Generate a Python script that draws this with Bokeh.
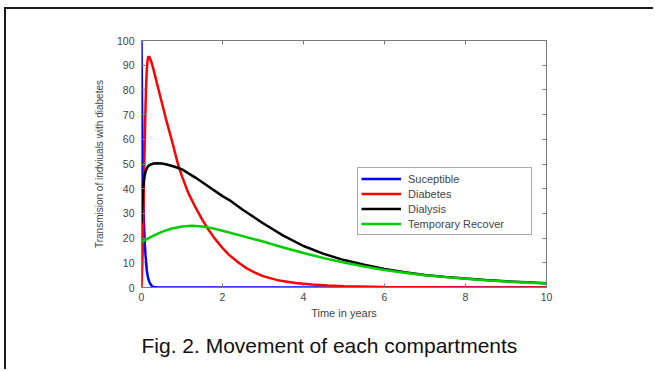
from bokeh.plotting import figure
from bokeh.models import Range1d, LinearAxis, Legend, LegendItem, Title, FixedTicker
from bokeh.embed import file_html
from bokeh.resources import INLINE

# ---------------- data ----------------
x_ticks = [0, 2, 4, 6, 8, 10]
y_ticks = [0, 10, 20, 30, 40, 50, 60, 70, 80, 90, 100]

t_sus = [0, 0.01, 0.02, 0.03, 0.04, 0.05, 0.06, 0.08, 0.10, 0.13, 0.16, 0.20, 0.25, 0.30, 0.40,
         1, 2, 4, 6, 8, 10]
sus = [100, 80, 64, 52, 42, 33, 27, 18, 13, 7, 4, 2, 0.7, 0.2, 0,
       0, 0, 0, 0, 0, 0]

t_dia = [0, 0.03, 0.05, 0.07, 0.09, 0.11, 0.13, 0.15, 0.17, 0.20, 0.25, 0.30, 0.40, 0.50, 0.60,
         0.75, 0.90, 1.00, 1.15, 1.33, 1.50, 1.62, 1.80, 2.00, 2.16, 2.40, 2.60, 2.80, 3.00,
         3.40, 3.80, 4.20, 4.60, 5.0, 6.0, 7.0, 8.0, 10.0]
dia = [0, 15, 32, 50, 67, 80, 88, 92, 93.5, 93.2, 91, 88, 81.5, 75, 68.5,
       59.5, 50, 45, 38.5, 32.5, 27.5, 24.2, 20, 16, 13.2, 10, 7.7, 6, 4.6,
       2.8, 1.8, 1.2, 0.8, 0.5, 0.2, 0.1, 0, 0]

t_dly = [0, 0.02, 0.04, 0.06, 0.08, 0.10, 0.15, 0.20, 0.30, 0.40, 0.50, 0.60, 0.80, 1.00, 1.33,
         1.60, 2.00, 2.16, 2.50, 3.00, 3.50, 4.00, 4.50, 5.00, 5.50, 6.00, 6.50, 7.00, 7.50,
         8.00, 8.50, 9.00, 9.50, 10.0]
dly = [26, 34, 40, 43.5, 45.5, 47, 48.8, 49.6, 50.2, 50.3, 50.2, 49.9, 49, 47.8, 44.5,
       41.5, 37, 35.5, 31.5, 26, 21, 16.8, 13.6, 11.1, 9.2, 7.5, 6.2, 5.1, 4.3,
       3.6, 3.0, 2.5, 2.1, 1.7]

t_rec = [0, 0.1, 0.25, 0.5, 0.75, 1.0, 1.25, 1.5, 1.75, 2.0, 2.5, 3.0, 3.5, 4.0, 4.5, 5.0,
         5.5, 6.0, 6.5, 7.0, 7.5, 8.0, 8.5, 9.0, 9.5, 10]
rec = [18.5, 19.3, 20.6, 22.5, 23.9, 24.7, 25.0, 24.7, 24.0, 23.0, 20.8, 18.6, 16.2, 14.0, 11.9, 10.1,
       8.5, 7.1, 6.0, 5.0, 4.2, 3.5, 2.9, 2.4, 2.0, 1.6]

names = ["Suceptible", "Diabetes", "Dialysis", "Temporary Recover"]
colors = ["#0000FF", "#FF0000", "#000000", "#00CC00"]

x_label = "Time in years"
y_label = "Transmision of indviuals with diabetes"
caption = "Fig. 2. Movement of each compartments"

FONT = "Liberation Sans"
AX = "#7a7a7a"
TXT = "#444444"

# ---------------- figure ----------------
p = figure(width=649, height=362, output_backend="svg", toolbar_location=None,
           x_range=Range1d(0, 10), y_range=Range1d(0, 100),
           min_border_left=135, min_border_right=109, min_border_top=31, min_border_bottom=83,
           background_fill_color="white", border_fill_color="white")
p.styles = {"position": "absolute", "left": "4px", "top": "7px",
            "border-left": "2px solid #1a1a1a", "border-top": "2px solid #1a1a1a"}
p.grid.visible = False
p.outline_line_color = AX
p.outline_line_width = 1

p.xaxis.ticker = FixedTicker(ticks=x_ticks)
p.yaxis.ticker = FixedTicker(ticks=y_ticks)
p.xaxis.axis_label = x_label
p.yaxis.axis_label = y_label

for ax in [p.xaxis[0], p.yaxis[0]]:
    ax.major_tick_in = 4
    ax.major_tick_out = 0
    ax.minor_tick_line_color = None
    ax.axis_line_color = AX
    ax.major_tick_line_color = AX
    ax.major_label_text_font = FONT
    ax.major_label_text_font_size = "10.5px"
    ax.major_label_text_color = TXT
    ax.axis_label_text_font = FONT
    ax.axis_label_text_font_style = "normal"
    ax.axis_label_text_color = TXT

p.xaxis.major_label_standoff = 5
p.xaxis.axis_label_standoff = 3
p.xaxis.axis_label_text_font_size = "11px"
p.yaxis.major_label_standoff = 7
p.yaxis.axis_label_standoff = 9
p.yaxis.axis_label_text_font_size = "10px"

# mirrored tick axes (top and right) like MATLAB box
top = LinearAxis(ticker=FixedTicker(ticks=x_ticks))
right = LinearAxis(ticker=FixedTicker(ticks=y_ticks))
for ax in [top, right]:
    ax.major_tick_in = 4
    ax.major_tick_out = 0
    ax.minor_tick_line_color = None
    ax.axis_line_color = AX
    ax.major_tick_line_color = AX
    ax.major_label_text_font_size = "0px"
    ax.major_label_text_color = None
    ax.major_label_standoff = 0
p.add_layout(top, "above")
p.add_layout(right, "right")

# ---------------- curves ----------------
series = [(t_sus, sus), (t_dia, dia), (t_dly, dly), (t_rec, rec)]
rends = []
for (tt, vv), c in zip(series, colors):
    rends.append(p.line(tt, vv, line_color=c, line_width=2.5))

legend = Legend(items=[LegendItem(label=n, renderers=[r]) for n, r in zip(names, rends)],
                location=(216, 52), orientation="vertical",
                glyph_width=40, glyph_height=15, label_height=15, spacing=0,
                padding=3, label_standoff=7, label_width=120, margin=0,
                border_line_color="#555555", border_line_width=1,
                background_fill_color="white", background_fill_alpha=1.0,
                label_text_font=FONT, label_text_font_size="11px", label_text_color=TXT)
p.add_layout(legend)

cap = Title(text=caption, align="left", offset=0, standoff=25, vertical_align="top",
            text_font=FONT, text_font_size="21px", text_font_style="normal",
            text_color="#111111")
p.add_layout(cap, "below")

open("out.html", "w").write(file_html(p, INLINE))
